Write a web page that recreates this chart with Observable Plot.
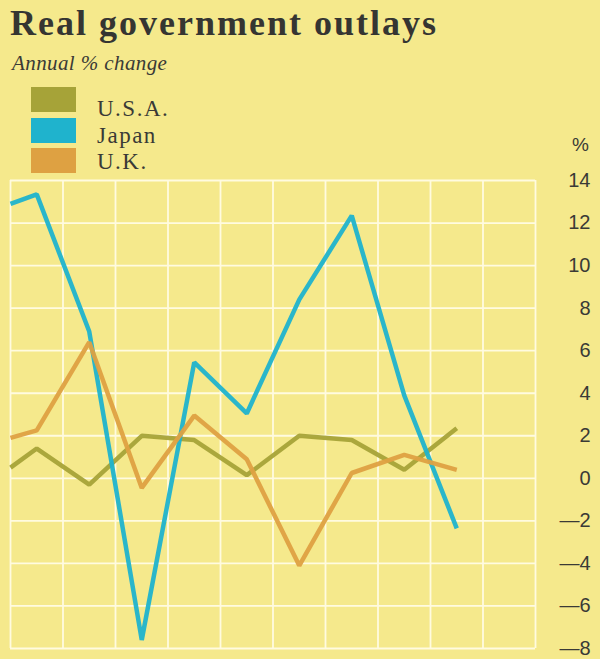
<!DOCTYPE html>
<html>
<head>
<meta charset="utf-8">
<script src="https://cdn.jsdelivr.net/npm/d3@7"></script>
<script src="https://cdn.jsdelivr.net/npm/@observablehq/plot@0.6"></script>
<style>
  html, body { margin: 0; padding: 0; }
  #page { position: relative; width: 600px; height: 659px; background: #f5e98c; overflow: hidden; }
  .title { position: absolute; left: 10px; top: 1px; font-family: "Liberation Serif", serif; font-weight: bold; font-size: 36px; color: #353532; letter-spacing: 2px; line-height: 44px; white-space: nowrap; }
  .subtitle { position: absolute; left: 12px; top: 50px; font-family: "Liberation Serif", serif; font-style: italic; font-size: 21px; color: #3a3a36; letter-spacing: 0.4px; line-height: 26px; white-space: nowrap; }
  .leg { position: absolute; left: 31px; width: 45px; height: 25px; }
  .legt { position: absolute; left: 97px; font-family: "Liberation Serif", serif; font-size: 23px; color: #3a3a36; letter-spacing: 1.5px; line-height: 26px; white-space: nowrap; }
  .pct { position: absolute; left: 572px; top: 134px; font-family: "Liberation Sans", Arial, sans-serif; font-size: 19px; color: #3a3a36; }
  #chart { position: absolute; left: 0; top: 150px; }
</style>
</head>
<body>
<div id="page">
  <div class="title">Real government outlays</div>
  <div class="subtitle">Annual % change</div>
  <div id="legend"></div>
  <div class="pct">%</div>
  <div id="chart"></div>
</div>
<script>
// Positions along the time axis (gridline units; first value sits on the left edge)
const period = [0, 0.5, 1.5, 2.5, 3.5, 4.5, 5.5, 6.5, 7.5, 8.5];
const seriesNames = ["U.S.A.", "Japan", "U.K."];
const usa   = [0.5, 1.4, -0.3, 2.0, 1.8, 0.15, 2.0, 1.8, 0.4, 2.35];
const japan = [12.9, 13.35, 6.9, -7.6, 5.45, 3.05, 8.4, 12.35, 3.9, -2.35];
const uk    = [1.9, 2.25, 6.4, -0.45, 2.95, 0.9, -4.1, 0.25, 1.1, 0.4];
const yTicks = [-8, -6, -4, -2, 0, 2, 4, 6, 8, 10, 12, 14];
const xGrid = [0, 1, 2, 3, 4, 5, 6, 7, 8, 9, 10];
const colors = ["#a6a338", "#1fb3cd", "#dea142"];

const values = [usa, japan, uk];
const data = [];
seriesNames.forEach((name, s) => {
  values[s].forEach((v, i) => data.push({series: name, x: period[i], value: v}));
});

// Legend
const legend = document.getElementById("legend");
const legTops = [87, 118, 148];
const textTops = [96, 123, 149];
seriesNames.forEach((name, i) => {
  const sw = document.createElement("div");
  sw.className = "leg";
  sw.style.top = legTops[i] + "px";
  sw.style.background = colors[i];
  legend.appendChild(sw);
  const t = document.createElement("div");
  t.className = "legt";
  t.style.top = textTops[i] + "px";
  t.textContent = name;
  legend.appendChild(t);
});

const chart = Plot.plot({
  width: 600,
  height: 509,
  marginTop: 30,
  marginBottom: 11,
  marginLeft: 10,
  marginRight: 65,
  style: {background: "transparent", overflow: "visible"},
  x: {domain: [0, 10], axis: null},
  y: {domain: [-8, 14], axis: null},
  color: {domain: seriesNames, range: colors},
  marks: [
    Plot.gridX(xGrid, {stroke: "#fffbe0", strokeOpacity: 1, strokeWidth: 1.8}),
    Plot.gridY(yTicks, {stroke: "#fffbe0", strokeOpacity: 1, strokeWidth: 1.8}),
    Plot.axisY(yTicks, {
      anchor: "right", tickSize: 0, tickPadding: 55, textAnchor: "end",
      fontSize: 20, fill: "#3a3a36", label: null,
      fontFamily: "Liberation Sans, Arial, sans-serif",
      tickFormat: d => d < 0 ? "\u2014" + Math.abs(d) : String(d)
    }),
    Plot.line(data, {x: "x", y: "value", z: "series", stroke: "series", strokeWidth: 4.5, strokeLinejoin: "miter", strokeLinecap: "butt", strokeOpacity: 0.95})
  ]
});
document.getElementById("chart").appendChild(chart);
</script>
</body>
</html>
